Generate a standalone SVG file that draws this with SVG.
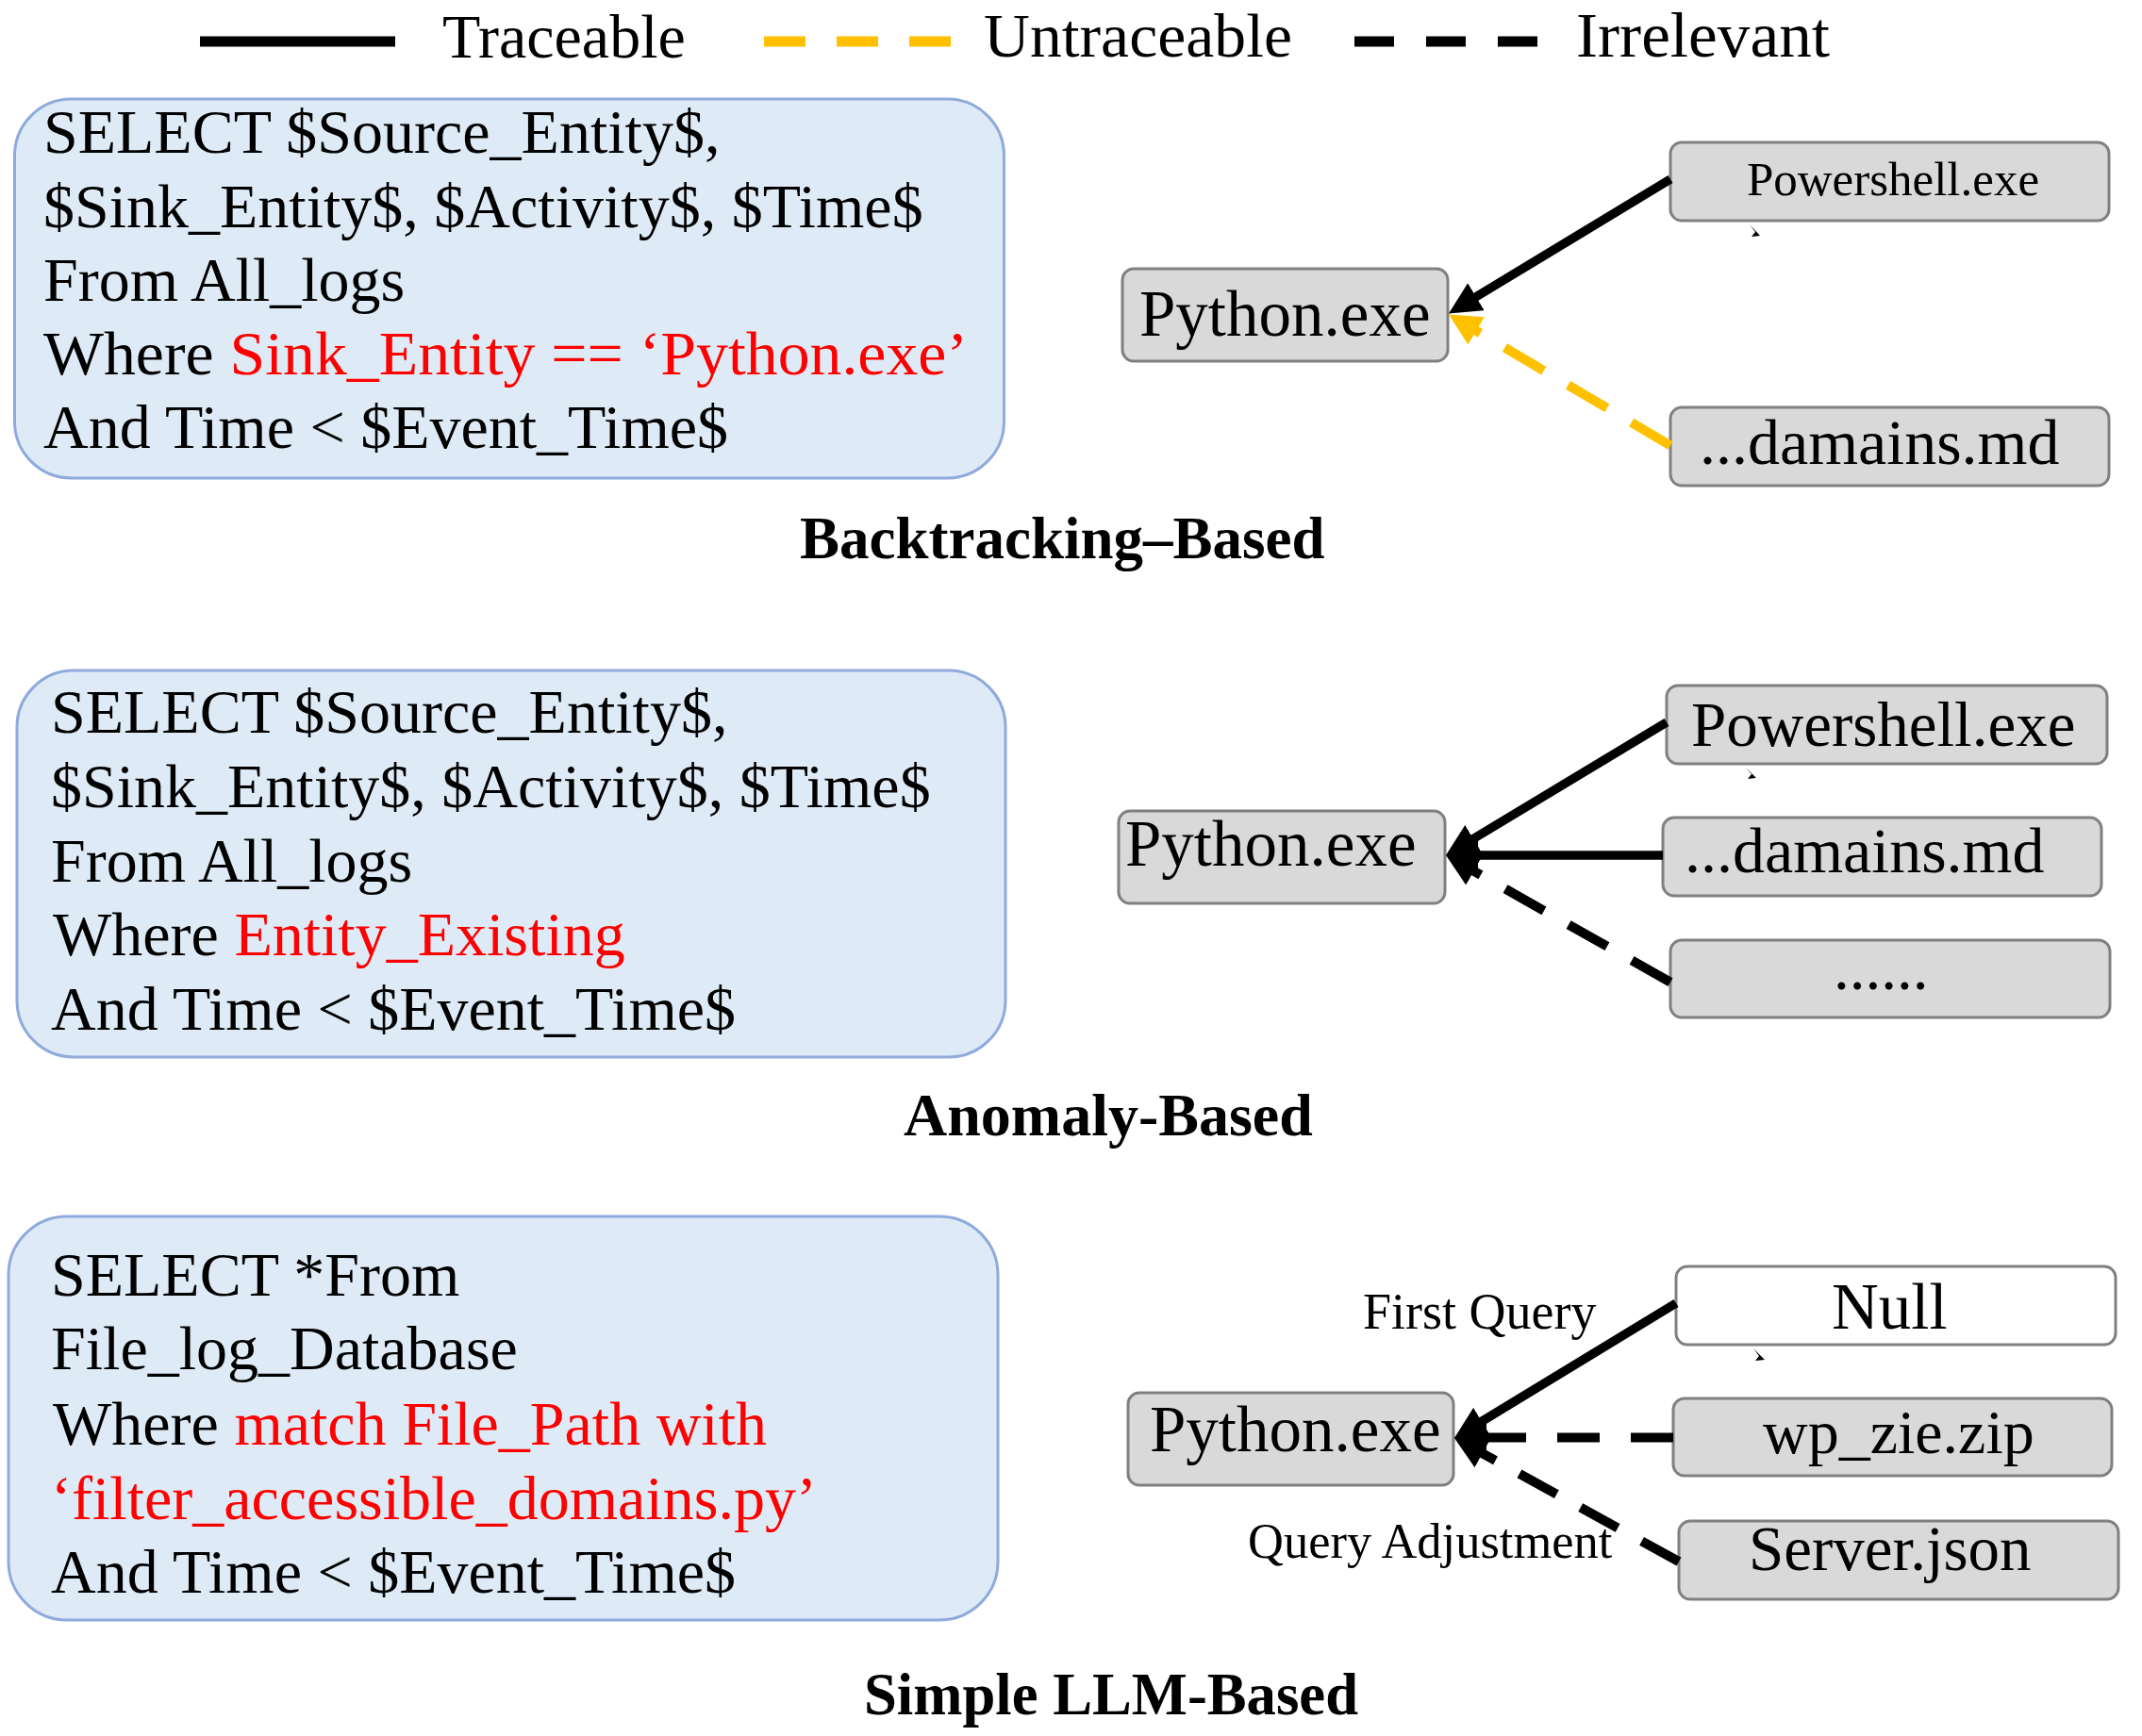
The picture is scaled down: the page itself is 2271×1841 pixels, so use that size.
<svg xmlns="http://www.w3.org/2000/svg" width="2271" height="1841" viewBox="0 0 2271 1841">
<style>
text{font-family:"Liberation Serif","Times New Roman",serif;fill:#000}
.q{font-size:66px}
.red{fill:#FF0000}
.qbox{fill:#DEEBF7;stroke:#8FAADC;stroke-width:3}
.ent{fill:#D9D9D9;stroke:#808080;stroke-width:3}
.entw{fill:#FFFFFF;stroke:#808080;stroke-width:3}
.lbl{font-size:63px;font-weight:bold}
.leg{font-size:67px}
.solid{fill:none;stroke:#000;stroke-width:9.5}
.dash{fill:none;stroke:#000;stroke-width:10}
.ydash{fill:none;stroke:#FFC000;stroke-width:10}
.tick{fill:#000}
</style>
<defs>
<marker id="ah" viewBox="-2 -17 34 34" markerWidth="34" markerHeight="34" refX="0" refY="0" orient="auto" markerUnits="userSpaceOnUse">
<path d="M-2,-17 L32,0 L-2,17 z" fill="#000"/>
</marker>
<marker id="ahy" viewBox="-2 -17 34 34" markerWidth="34" markerHeight="34" refX="0" refY="0" orient="auto" markerUnits="userSpaceOnUse">
<path d="M-2,-17 L32,0 L-2,17 z" fill="#FFC000"/>
</marker>
</defs>
<rect width="2271" height="1841" fill="#FFFFFF"/>

<g id="legend">
<line x1="212" y1="44" x2="419" y2="44" stroke="#000" stroke-width="11"/>
<text class="leg" x="469" y="61" style="font-size:66px">Traceable</text>
<line x1="810" y1="44" x2="1008" y2="44" stroke="#FFC000" stroke-width="11" stroke-dasharray="44 33"/>
<text class="leg" x="1043" y="60" style="font-size:66px" textLength="327" lengthAdjust="spacingAndGlyphs">Untraceable</text>
<line x1="1436" y1="44" x2="1632" y2="44" stroke="#000" stroke-width="11" stroke-dasharray="42 34"/>
<text class="leg" x="1671" y="60" style="font-size:68px" textLength="269" lengthAdjust="spacingAndGlyphs">Irrelevant</text>
</g>

<g id="query-backtracking">
<rect class="qbox" x="15.5" y="105" width="1049" height="402" rx="60" ry="60"/>
<text class="q" x="46" y="162">SELECT $Source_Entity$,</text>
<text class="q" x="46" y="240.5">$Sink_Entity$, $Activity$, $Time$</text>
<text class="q" x="46" y="318.5">From All_logs</text>
<text class="q" x="46" y="397" textLength="980" lengthAdjust="spacingAndGlyphs">Where <tspan class="red">Sink_Entity == ‘Python.exe’</tspan></text>
<text class="q" x="46" y="475">And Time &lt; $Event_Time$</text>
</g>
<g id="label-backtracking"><text class="lbl" x="848" y="592">Backtracking–Based</text></g>

<g id="b-python"><rect class="ent" x="1190" y="285" width="345" height="98" rx="12"/><text x="1208" y="356" font-size="69">Python.exe</text></g>
<g id="b-powershell"><rect class="ent" x="1771" y="151" width="465" height="83" rx="12"/><text x="2007" y="207" font-size="51" text-anchor="middle">Powershell.exe</text></g>
<g id="b-damains"><rect class="ent" x="1771" y="432" width="465" height="83" rx="12"/><text x="1802" y="492" font-size="68">...damains.md</text></g>

<g id="query-anomaly">
<rect class="qbox" x="18" y="711" width="1048" height="410" rx="60" ry="60"/>
<text class="q" x="54" y="777">SELECT $Source_Entity$,</text>
<text class="q" x="54" y="856">$Sink_Entity$, $Activity$, $Time$</text>
<text class="q" x="54" y="934.5">From All_logs</text>
<text class="q" x="56" y="1013">Where <tspan class="red">Entity_Existing</tspan></text>
<text class="q" x="54" y="1092">And Time &lt; $Event_Time$</text>
</g>
<g id="label-anomaly"><text class="lbl" x="958" y="1204" style="font-size:64px">Anomaly-Based</text></g>

<g id="a-python"><rect class="ent" x="1186" y="860" width="346" height="98" rx="12"/><text x="1193" y="917.5" font-size="69">Python.exe</text></g>
<g id="a-powershell"><rect class="ent" x="1767" y="727" width="467" height="83" rx="12"/><text x="1793" y="791" font-size="67">Powershell.exe</text></g>
<g id="a-damains"><rect class="ent" x="1763" y="867" width="465" height="83" rx="12"/><text x="1786" y="924.5" font-size="68">...damains.md</text></g>
<g id="a-more"><rect class="ent" x="1771" y="997" width="466" height="82" rx="12"/><text x="1944" y="1049" font-size="67">......</text></g>

<g id="query-llm">
<rect class="qbox" x="9" y="1290" width="1049" height="428" rx="62" ry="62"/>
<text class="q" x="54" y="1374">SELECT *From</text>
<text class="q" x="54" y="1452">File_log_Database</text>
<text class="q" x="56" y="1531.5">Where <tspan class="red">match File_Path with</tspan></text>
<text class="q red" x="54" y="1610.5">‘filter_accessible_domains.py’</text>
<text class="q" x="54" y="1689">And Time &lt; $Event_Time$</text>
</g>
<g id="label-llm"><text class="lbl" x="916" y="1818" textLength="524" lengthAdjust="spacingAndGlyphs">Simple LLM-Based</text></g>

<g id="c-python"><rect class="ent" x="1196" y="1477" width="345" height="98" rx="12"/><text x="1219" y="1539" font-size="69">Python.exe</text></g>
<g id="c-null"><rect class="entw" x="1777" y="1343" width="466" height="83" rx="12"/><text x="1942" y="1409" font-size="69">Null</text></g>
<g id="c-wpzie"><rect class="ent" x="1774" y="1483" width="465" height="82" rx="12"/><text x="1869" y="1541" font-size="66">wp_zie.zip</text></g>
<g id="c-server"><rect class="ent" x="1780" y="1613" width="466" height="83" rx="12"/><text x="1854" y="1664.5" font-size="67">Server.json</text></g>

<g id="connectors">
<line class="solid" x1="1771" y1="190" x2="1563.3" y2="315.8" marker-end="url(#ah)"/>
<line class="ydash" x1="1771" y1="472.5" x2="1563.5" y2="349.8" stroke-dasharray="48 30" marker-end="url(#ahy)"/>

<line class="solid" x1="1767" y1="766" x2="1560.4" y2="890.5" marker-end="url(#ah)"/>
<line class="solid" x1="1763" y1="907" x2="1565" y2="907" marker-end="url(#ah)"/>
<line class="dash" x1="1771" y1="1041.6" x2="1560.9" y2="922.8" stroke-dasharray="47 30" marker-end="url(#ah)"/>

<line class="solid" x1="1777" y1="1382" x2="1569.3" y2="1508.4" marker-end="url(#ah)"/>
<line class="dash" x1="1774" y1="1524.5" x2="1574" y2="1524.5" stroke-dasharray="45 33" marker-end="url(#ah)"/>
<line class="dash" x1="1780" y1="1656" x2="1570" y2="1540.4" stroke-dasharray="45 29" marker-end="url(#ah)"/>

<text x="1445" y="1409" font-size="54">First Query</text>
<text x="1323" y="1652" font-size="52.5">Query Adjustment</text>

<path class="tick" d="M1855,238 L1861,246 L1857,251 L1866,250 Z"/>
<path class="tick" d="M1851,814 L1857,821 L1853,826 L1862,825 Z"/>
<path class="tick" d="M1859,1430 L1865,1438 L1861,1443 L1871,1442 Z"/>
</g>
</svg>
